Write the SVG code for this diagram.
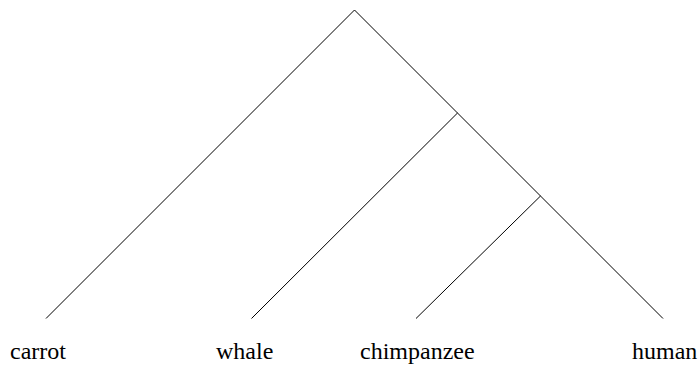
<svg xmlns="http://www.w3.org/2000/svg" width="700" height="365" viewBox="0 0 700 365">
<style>
.e{stroke:#000;stroke-width:1;fill:none}
.t{font-family:"Liberation Serif","Times New Roman",serif;font-size:24px;fill:#000}
</style>
<rect width="700" height="365" fill="#fff"/>
<g id="connectors">
<line class="e" x1="354.5" y1="10" x2="46" y2="318.5"/>
<line class="e" x1="354.5" y1="10" x2="457.5" y2="113"/>
<line class="e" x1="457.5" y1="113" x2="540.5" y2="196"/>
<line class="e" x1="540.5" y1="196" x2="663" y2="318.5"/>
<line class="e" x1="457.5" y1="113" x2="251.5" y2="318.5"/>
<line class="e" x1="540.5" y1="196" x2="416" y2="318.5"/>
</g>
<g id="carrot"><text class="t" x="10" y="359">carrot</text></g>
<g id="whale"><text class="t" x="216" y="359">whale</text></g>
<g id="chimpanzee"><text class="t" x="360" y="359">chimpanzee</text></g>
<g id="human"><text class="t" x="632" y="359">human</text></g>
</svg>
